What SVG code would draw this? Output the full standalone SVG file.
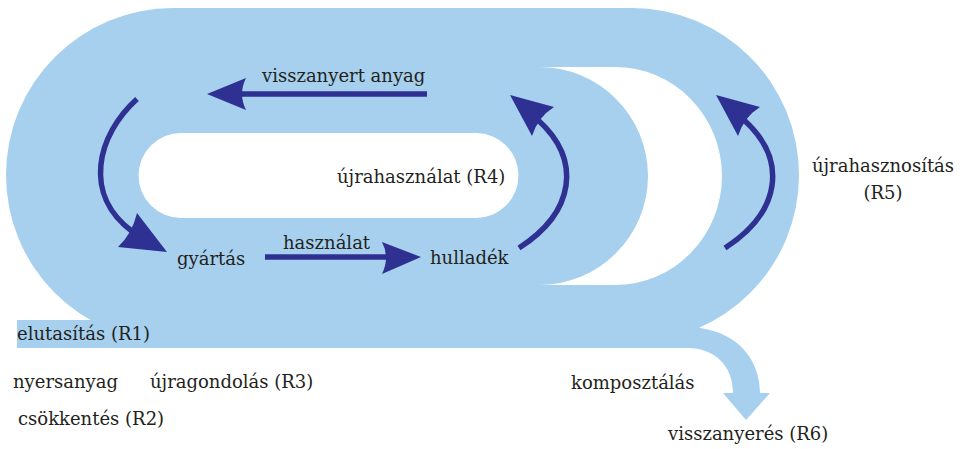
<svg xmlns="http://www.w3.org/2000/svg" width="963" height="449" viewBox="0 0 963 449">
  <style>
    .flow { fill: #A6D0EE; }
    .hole { fill: #FFFFFF; }
    .lbl { font-family: "DejaVu Serif", "Liberation Serif", serif; font-size: 18px; fill: #231F20; }
    .shaft { fill: none; stroke: #2E3192; stroke-width: 5.5; }
    .head { fill: #2E3192; }
  </style>
  <rect width="963" height="449" fill="#FFFFFF"/>
  <g id="flows">
    <path class="flow" d="M173,8 H632 A167,167 0 0 1 632,342 H173 A167,167 0 0 1 173,8 Z"/>
    <path class="hole" d="M540,67 H615 A107,109 0 0 1 615,285 H540 Z"/>
    <path class="flow" d="M200,67 H539 A109,109 0 0 1 539,285 H200 Z"/>
    <path class="hole" d="M181,133 H476 A42.5,42.5 0 0 1 476,218 H181 A42.5,42.5 0 0 1 181,133 Z"/>
    <rect class="flow" x="17" y="320" width="672" height="28"/>
    <path class="flow" d="M690,320 L700,328 C738,333 760,360 760,393 L770,393 L746,420 L723,393 L733,393 C733,366 715,348 687,348 L687,320 Z"/>
  </g>
  <g id="connectors">
    <g id="arrow-visszanyert">
      <path class="shaft" d="M427,94 H240"/>
      <path class="head" d="M207,94 L246,78 Q238,94 246,110 Z"/>
    </g>
    <g id="arrow-hasznalat">
      <path class="shaft" d="M265,257 H388"/>
      <path class="head" d="M421,257 L382,242 Q390,257 382,274 Z"/>
    </g>
    <g id="arrow-gyartas">
      <path class="shaft" d="M137,99 C97,135 82,195 133,232"/>
      <path class="head" d="M167,252 L118,247 Q132,234 137,213 Z"/>
    </g>
    <g id="arrow-r4">
      <path class="shaft" d="M519,248 C575,212 582,160 538,120"/>
      <path class="head" d="M510,95 L554,107 Q538,117 532,136 Z"/>
    </g>
    <g id="arrow-r5">
      <path class="shaft" d="M725,248 C781,212 788,160 744,120"/>
      <path class="head" d="M716,95 L760,107 Q744,117 738,136 Z"/>
    </g>
  </g>
  <g id="node-visszanyert-anyag"><text class="lbl" x="262" y="82">visszanyert anyag</text></g>
  <g id="node-ujrahasznalat"><text class="lbl" x="337" y="183">újrahasználat (R4)</text></g>
  <g id="node-gyartas"><text class="lbl" x="177" y="265">gyártás</text></g>
  <g id="node-hasznalat"><text class="lbl" x="283" y="249">használat</text></g>
  <g id="node-hulladek"><text class="lbl" x="430" y="264">hulladék</text></g>
  <g id="node-ujrahasznositas"><text class="lbl" x="883" y="172" text-anchor="middle">újrahasznosítás</text><text class="lbl" x="883" y="199" text-anchor="middle">(R5)</text></g>
  <g id="node-elutasitas"><text class="lbl" x="17" y="340">elutasítás (R1)</text></g>
  <g id="node-nyersanyag"><text class="lbl" x="13" y="388">nyersanyag</text></g>
  <g id="node-ujragondolas"><text class="lbl" x="150" y="388">újragondolás (R3)</text></g>
  <g id="node-csokkentes"><text class="lbl" x="18" y="425">csökkentés (R2)</text></g>
  <g id="node-komposztalas"><text class="lbl" x="571" y="389">komposztálás</text></g>
  <g id="node-visszanyeres"><text class="lbl" x="668" y="440">visszanyerés (R6)</text></g>
</svg>
